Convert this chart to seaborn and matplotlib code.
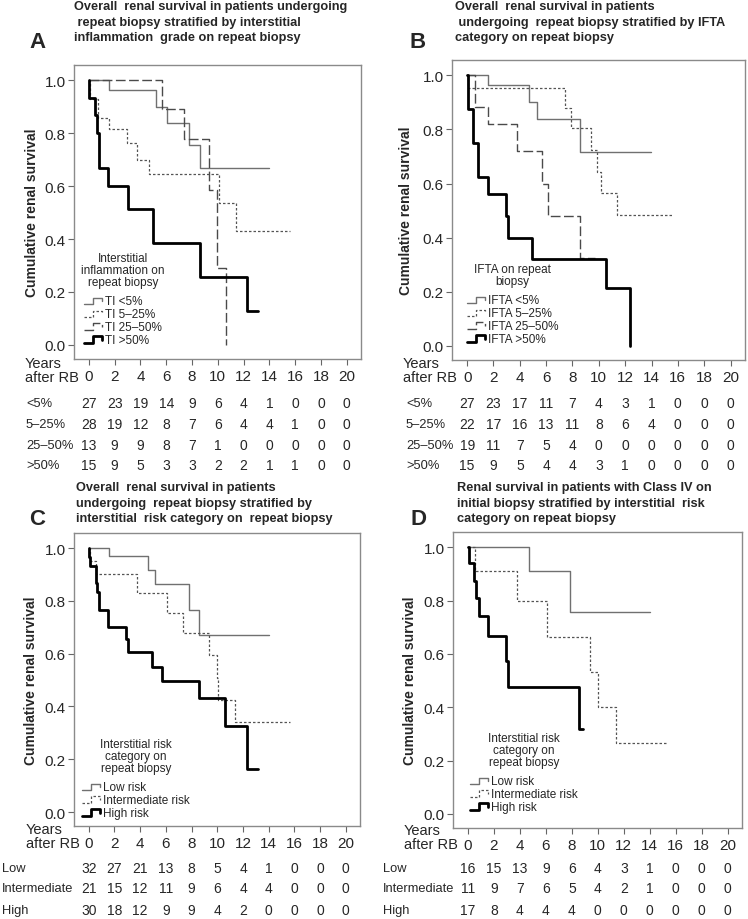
import numpy as np
import matplotlib
matplotlib.use("Agg")
import matplotlib.pyplot as plt
import matplotlib.transforms as mtransforms
from matplotlib.legend_handler import HandlerBase
from matplotlib.lines import Line2D
import seaborn as sns

# --- values ---
years = [0, 2, 4, 6, 8, 10, 12, 14, 16, 18, 20]

# A: interstitial inflammation
a_lt5_t = [0, 1.58, 5.22, 6.05, 7.8, 8.58, 14.0]
a_lt5_s = [1.0, 0.963, 0.90, 0.837, 0.756, 0.67, 0.67]
a_525_t = [0, 0.1, 0.7, 1.58, 2.95, 3.72, 4.63, 10.1, 11.4, 15.6]
a_525_s = [1.0, 0.93, 0.857, 0.815, 0.762, 0.70, 0.645, 0.537, 0.43, 0.43]
a_2550_t = [0, 5.7, 7.4, 9.35, 9.9, 10.6]
a_2550_s = [1.0, 0.89, 0.778, 0.584, 0.292, 0.0]
a_gt50_t = [0, 0.05, 0.5, 0.65, 0.8, 1.52, 3.05, 4.94, 8.58, 12.3, 13.15]
a_gt50_s = [1.0, 0.933, 0.867, 0.80, 0.667, 0.60, 0.514, 0.386, 0.257, 0.129, 0.129]

# B: IFTA
b_lt5_t = [0, 1.62, 4.68, 5.27, 8.58, 13.97]
b_lt5_s = [1.0, 0.963, 0.90, 0.837, 0.718, 0.718]
b_525_t = [0, 0.05, 7.4, 7.85, 9.4, 9.85, 10.15, 11.37, 15.57]
b_525_s = [1.0, 0.955, 0.878, 0.805, 0.724, 0.644, 0.566, 0.483, 0.483]
b_2550_t = [0, 0.56, 1.57, 3.8, 5.7, 6.13, 8.58, 9.7]
b_2550_s = [1.0, 0.884, 0.822, 0.72, 0.60, 0.48, 0.324, 0.324]
b_gt50_t = [0, 0.05, 0.1, 0.46, 0.84, 1.6, 2.96, 3.09, 4.96, 10.58, 12.35]
b_gt50_s = [1.0, 0.94, 0.875, 0.75, 0.625, 0.563, 0.48, 0.40, 0.32, 0.214, 0.0]

# C: interstitial risk, all patients
c_low_t = [0, 1.58, 4.64, 5.18, 7.82, 8.6, 13.99]
c_low_s = [1.0, 0.968, 0.917, 0.862, 0.767, 0.672, 0.672]
c_int_t = [0, 0.1, 0.54, 3.73, 6.06, 7.36, 9.35, 9.95, 10.08, 11.37, 15.65]
c_int_s = [1.0, 0.952, 0.90, 0.83, 0.754, 0.678, 0.593, 0.509, 0.425, 0.34, 0.34]
c_high_t = [0, 0.05, 0.1, 0.54, 0.65, 0.8, 1.53, 2.9, 3.03, 4.95, 5.7, 8.58, 10.57, 12.3, 13.13]
c_high_s = [1.0, 0.967, 0.933, 0.867, 0.833, 0.767, 0.70, 0.655, 0.607, 0.55, 0.495, 0.433, 0.325, 0.163, 0.163]

# D: interstitial risk, class IV
d_low_t = [0, 4.67, 7.86, 14.04]
d_low_s = [1.0, 0.909, 0.758, 0.758]
d_int_t = [0, 0.54, 3.77, 6.08, 9.37, 10.04, 11.37, 15.3]
d_int_s = [1.0, 0.909, 0.80, 0.664, 0.533, 0.40, 0.266, 0.266]
d_high_t = [0, 0.05, 0.49, 0.62, 0.82, 1.54, 2.9, 3.06, 8.55, 8.86]
d_high_s = [1.0, 0.941, 0.875, 0.81, 0.741, 0.667, 0.572, 0.476, 0.317, 0.317]

# numbers at risk
a_risk_lt5 = [27, 23, 19, 14, 9, 6, 4, 1, 0, 0, 0]
a_risk_525 = [28, 19, 12, 8, 7, 6, 4, 4, 1, 0, 0]
a_risk_2550 = [13, 9, 9, 8, 7, 1, 0, 0, 0, 0, 0]
a_risk_gt50 = [15, 9, 5, 3, 3, 2, 2, 1, 1, 0, 0]
b_risk_lt5 = [27, 23, 17, 11, 7, 4, 3, 1, 0, 0, 0]
b_risk_525 = [22, 17, 16, 13, 11, 8, 6, 4, 0, 0, 0]
b_risk_2550 = [19, 11, 7, 5, 4, 0, 0, 0, 0, 0, 0]
b_risk_gt50 = [15, 9, 5, 4, 4, 3, 1, 0, 0, 0, 0]
c_risk_low = [32, 27, 21, 13, 8, 5, 4, 1, 0, 0, 0]
c_risk_int = [21, 15, 12, 11, 9, 6, 4, 4, 0, 0, 0]
c_risk_high = [30, 18, 12, 9, 9, 4, 2, 0, 0, 0, 0]
d_risk_low = [16, 15, 13, 9, 6, 4, 3, 1, 0, 0, 0]
d_risk_int = [11, 9, 7, 6, 5, 4, 2, 1, 0, 0, 0]
d_risk_high = [17, 8, 4, 4, 4, 0, 0, 0, 0, 0, 0]

pct_groups = ["<5%", "5\u201325%", "25\u201350%", ">50%"]
risk_groups = ["Low", "Intermediate", "High"]

# --- styles ---
thin = dict(color="#707070", lw=1.0, ls="-")
dotted = dict(color="#555555", lw=0.9, ls=(0, (2, 1.6)))
dashed = dict(color="#4a4a4a", lw=1.0, ls=(0, (7, 2.5)))
thick = dict(color="black", lw=2.0, ls="-")

sns.set_theme(style="white")
plt.rcParams["font.family"] = ["Liberation Sans", "DejaVu Sans"]

W, H = 748, 920
fig = plt.figure(figsize=(W / 100, H / 100), dpi=100)


class KMHandler(HandlerBase):
    # little step glyph like the SPSS legend
    def create_artists(self, legend, orig, xdescent, ydescent, width, height, fontsize, trans):
        x0, y0 = -xdescent, -ydescent
        xs = [x0, x0 + 0.45 * width, x0 + 0.45 * width, x0 + 0.85 * width, x0 + 0.85 * width]
        ys = [y0 + 0.05 * height, y0 + 0.05 * height, y0 + 0.8 * height, y0 + 0.8 * height, y0 + 0.35 * height]
        ln = Line2D(xs, ys)
        ln.update_from(orig)
        ln.set_drawstyle("default")
        ln.set_transform(trans)
        return [ln]


def panel(box, curves, labels, styles, leg_title, leg_xy, title, title_xy, letter, letter_xy,
          ylab_x, years_xy, risk, risk_labels, risk_dy, risk_lab_x):
    left, top, right, bottom = box
    ax = fig.add_axes([left / W, 1 - bottom / H, (right - left) / W, (bottom - top) / H])
    for (t, s), lab, st in zip(curves, labels, styles):
        sns.lineplot(x=t, y=s, ax=ax, drawstyle="steps-post", estimator=None, sort=False,
                     color=st["color"], linewidth=st["lw"], linestyle=st["ls"], label=lab, legend=False)
    ax.set_xlim(-1.15, 21.1)
    ax.set_ylim(-0.053, 1.057)
    ax.set_xticks(years)
    ax.set_yticks(np.arange(0, 1.01, 0.2))
    ax.set_yticklabels([f"{v:.1f}" for v in np.arange(0, 1.01, 0.2)])
    ax.tick_params(axis="both", which="major", direction="out", length=4, width=0.8,
                   color="#666666", labelsize=11, pad=2, bottom=True, left=True)
    ax.tick_params(axis="x", pad=3)
    for sp in ax.spines.values():
        sp.set_color("#8a8a8a")
        sp.set_linewidth(1.0)
    ax.set_xlabel("")
    ax.set_ylabel("Cumulative renal survival", fontsize=10, fontweight="bold")
    ax.yaxis.set_label_coords(ylab_x, 0.5)

    lx = (leg_xy[0] - left) / (right - left)
    ly = (bottom - leg_xy[1]) / (bottom - top)
    leg = ax.legend(handles=ax.get_lines(), labels=labels, title=leg_title, loc="lower left",
                    bbox_to_anchor=(lx, ly), frameon=False, fontsize=8.5, title_fontsize=8.5,
                    handler_map={Line2D: KMHandler()}, handlelength=1.75, handletextpad=0.0,
                    labelspacing=0.08, borderpad=0, borderaxespad=0)
    leg.get_title().set_multialignment("center")
    leg.get_title().set_linespacing(1.03)
    leg._legend_box.sep = 5

    fig.text(title_xy[0] / W, 1 - title_xy[1] / H, title, ha="left", va="top",
             fontsize=9.2, fontweight="bold", linespacing=1.4)
    fig.text(letter_xy[0] / W, 1 - letter_xy[1] / H, letter, ha="center", va="center",
             fontsize=16, fontweight="bold")
    fig.text(years_xy[0] / W, 1 - years_xy[1] / H, "Years\nafter RB", ha="left", va="center",
             fontsize=10.5, linespacing=1.0)

    for counts, lab, dy in zip(risk, risk_labels, risk_dy):
        off = mtransforms.ScaledTranslation(0, -dy / 100, fig.dpi_scale_trans)
        tr = mtransforms.blended_transform_factory(ax.transData, ax.transAxes) + off
        for x, n in zip(years, counts):
            ax.text(x, 0, str(n), transform=tr, ha="center", va="center", fontsize=10, clip_on=False)
        tr_lab = mtransforms.blended_transform_factory(fig.transFigure, ax.transAxes) + off
        ax.text(risk_lab_x / W, 0, lab, transform=tr_lab, ha="left", va="center", fontsize=9.3, clip_on=False)
    return ax


panel((74, 66, 361, 360),
      [(a_lt5_t, a_lt5_s), (a_525_t, a_525_s), (a_2550_t, a_2550_s), (a_gt50_t, a_gt50_s)],
      ["TI <5%", "TI 5\u201325%", "TI 25\u201350%", "TI >50%"], [thin, dotted, dashed, thick],
      "Interstitial\ninflammation on\nrepeat biopsy", (81, 347),
      "Overall  renal survival in patients undergoing\n repeat biopsy stratified by interstitial\ninflammation  grade on repeat biopsy",
      (74, 1), "A", (37, 43), -0.122, (25, 371),
      [a_risk_lt5, a_risk_525, a_risk_2550, a_risk_gt50], pct_groups, [44, 65, 86, 106], 26)

panel((452, 61, 745, 361),
      [(b_lt5_t, b_lt5_s), (b_525_t, b_525_s), (b_2550_t, b_2550_s), (b_gt50_t, b_gt50_s)],
      ["IFTA <5%", "IFTA 5\u201325%", "IFTA 25\u201350%", "IFTA >50%"], [thin, dotted, dashed, thick],
      "IFTA on repeat\nbiopsy", (467, 346),
      "Overall  renal survival in patients\n undergoing  repeat biopsy stratified by IFTA\ncategory on repeat biopsy",
      (455, 1), "B", (418, 43), -0.133, (403, 371),
      [b_risk_lt5, b_risk_525, b_risk_2550, b_risk_gt50], pct_groups, [43, 64, 85, 105], 406)

panel((74, 534, 360, 827),
      [(c_low_t, c_low_s), (c_int_t, c_int_s), (c_high_t, c_high_s)],
      ["Low risk", "Intermediate risk", "High risk"], [thin, dotted, thick],
      "Interstitial risk\ncategory on\nrepeat biopsy", (82, 820),
      "Overall  renal survival in patients\nundergoing  repeat biopsy stratified by\ninterstitial  risk category on  repeat biopsy",
      (76, 482), "C", (37, 520), -0.126, (26, 837),
      [c_risk_low, c_risk_int, c_risk_high], risk_groups, [42, 62, 84], 2)

panel((453, 533, 742, 829),
      [(d_low_t, d_low_s), (d_int_t, d_int_s), (d_high_t, d_high_s)],
      ["Low risk", "Intermediate risk", "High risk"], [thin, dotted, thick],
      "Interstitial risk\ncategory on\nrepeat biopsy", (470, 814),
      "Renal survival in patients with Class IV on\ninitial biopsy stratified by interstitial  risk\ncategory on repeat biopsy",
      (457, 482), "D", (418, 520), -0.125, (404, 838),
      [d_risk_low, d_risk_int, d_risk_high], risk_groups, [40, 60, 82], 383)

fig.savefig("out.png", dpi=100)
